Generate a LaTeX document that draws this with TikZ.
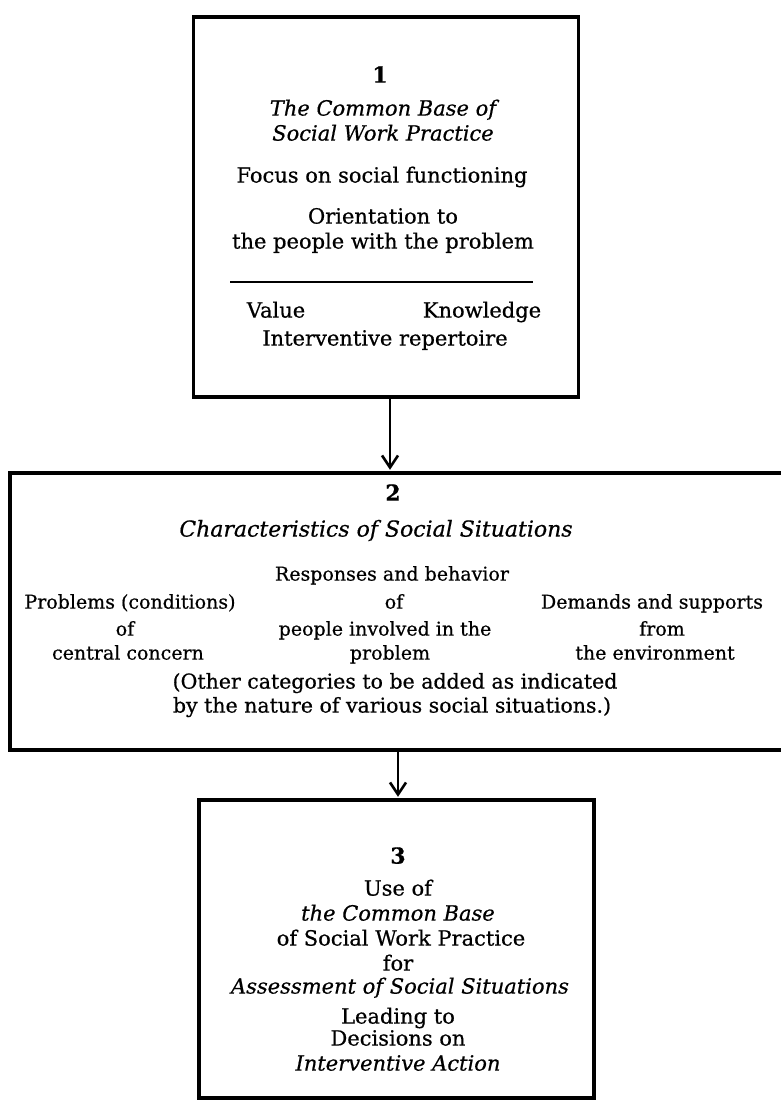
\documentclass[tikz,border=0pt]{standalone}
\usepackage{fontspec}
\setmainfont{DejaVu Serif}[FakeBold=0.6]
\usetikzlibrary{arrows.meta}
\begin{document}
\begin{tikzpicture}[x=1pt,y=-1pt,
  boxstyle/.style={draw=black, line width=3.8pt, rectangle, inner sep=0pt},
  txa/.style={font=\fontsize{21}{25}\selectfont, anchor=mid, inner sep=0pt, yshift=-3pt},
  ita/.style={font=\fontsize{21}{25}\selectfont\itshape, anchor=mid, inner sep=0pt, yshift=-3pt},
  numa/.style={font=\fontsize{22}{26}\selectfont\bfseries, anchor=mid, inner sep=0pt, yshift=-3pt},
  txb/.style={font=\fontsize{19}{23}\selectfont, anchor=mid, inner sep=0pt, yshift=-3pt},
  txc/.style={font=\fontsize{20.5}{24}\selectfont, anchor=mid, inner sep=0pt, yshift=-3pt},
  itb/.style={font=\fontsize{22}{26}\selectfont\itshape, anchor=mid, inner sep=0pt, yshift=-3pt},
  flow/.style={line width=2.8pt, shorten >=1.3pt, -{Straight Barb[length=12pt,width=16pt,line width=2.6pt]}},
  rulestyle/.style={line width=2.8pt}
]
\useasboundingbox (0,0) rectangle (781,1100);

% boxes
\node[boxstyle, minimum width=385pt, minimum height=380pt] (b1) at (386,207) {};
\node[boxstyle, minimum width=810pt, minimum height=277pt] (b2) at (415,611.5) {};
\node[boxstyle, minimum width=395pt, minimum height=298pt] (b3) at (396.5,949) {};

% connectors
\draw[flow] ([xshift=4pt]b1.south) -- ([xshift=4pt]b1.south |- b2.north);
\draw[flow] ([xshift=1.5pt]b3.north |- b2.south) -- ([xshift=1.5pt]b3.north);

% box 1 text
\node[numa] (n1) at (380,77) {1};
\node[ita] (a1) at (383,110) {The Common Base of};
\node[ita] (a2) at (383,135) {Social Work Practice};
\node[txa] (a3) at (382,177) {Focus on social functioning};
\node[txa] (a4) at (383,218) {Orientation to};
\node[txa] (a5) at (383,243) {the people with the problem};
\coordinate (r1) at (230,282);
\coordinate (r2) at (533,282);
\draw[rulestyle] (r1) -- (r2);
\node[txa] (a6) at (276,312) {Value};
\node[txa] (a7) at (482,312) {Knowledge};
\node[txa] (a8) at (385,340) {Interventive repertoire};

% box 2 text
\node[numa] (n2) at (393,495) {2};
\node[itb] (c1) at (376,531) {Characteristics of Social Situations};
\node[txb] (c2) at (392,575) {Responses and behavior};
\node[txb] (c3) at (130,603) {Problems (conditions)};
\node[txb] (c4) at (394,603) {of};
\node[txb] (c5) at (652,603) {Demands and supports};
\node[txb] (c6) at (125,630) {of};
\node[txb] (c7) at (385,630) {people involved in the};
\node[txb] (c8) at (662,630) {from};
\node[txb] (c9) at (128,654) {central concern};
\node[txb] (c10) at (390,654) {problem};
\node[txb] (c11) at (655,654) {the environment};
\node[txc] (c12) at (395,683) {(Other categories to be added as indicated};
\node[txc] (c13) at (392,707) {by the nature of various social situations.)};

% box 3 text
\node[numa] (n3) at (398,858) {3};
\node[txa] (d1) at (398,890) {Use of};
\node[ita] (d2) at (398,915) {the Common Base};
\node[txa] (d3) at (401,940) {of Social Work Practice};
\node[txa] (d4) at (398,965) {for};
\node[ita] (d5) at (400,988) {Assessment of Social Situations};
\node[txa] (d6) at (398,1018) {Leading to};
\node[txa] (d7) at (398,1040) {Decisions on};
\node[ita] (d8) at (398,1065) {Interventive Action};
\end{tikzpicture}
\end{document}
